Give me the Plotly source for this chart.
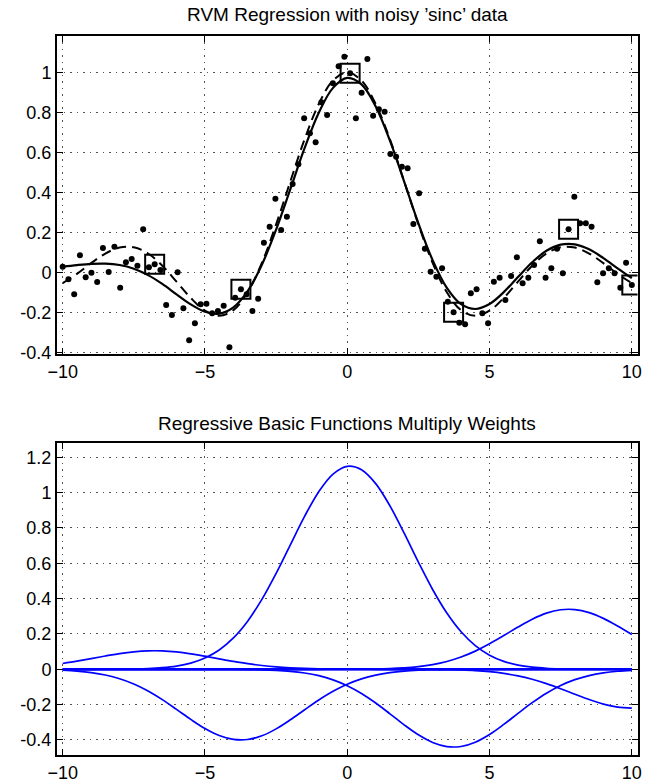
import plotly.graph_objects as go

# ---------------- data: noisy sinc samples (top panel) ----------------
x_data = [-10.000, -9.798, -9.596, -9.394, -9.192, -8.990, -8.788, -8.586, -8.384, -8.182,
          -7.980, -7.778, -7.576, -7.374, -7.172, -6.970, -6.768, -6.566, -6.364, -6.162,
          -5.960, -5.758, -5.556, -5.354, -5.152, -4.949, -4.747, -4.545, -4.343, -4.141,
          -3.939, -3.737, -3.535, -3.333, -3.131, -2.929, -2.727, -2.525, -2.323, -2.121,
          -1.919, -1.717, -1.515, -1.313, -1.111, -0.909, -0.707, -0.505, -0.303, -0.101,
          0.101, 0.303, 0.505, 0.707, 0.909, 1.111, 1.313, 1.515, 1.717, 1.919,
          2.121, 2.323, 2.525, 2.727, 2.929, 3.131, 3.333, 3.535, 3.737, 3.939,
          4.141, 4.343, 4.545, 4.747, 4.949, 5.152, 5.354, 5.556, 5.758, 5.960,
          6.162, 6.364, 6.566, 6.768, 6.970, 7.172, 7.374, 7.576, 7.778, 7.980,
          8.182, 8.384, 8.586, 8.788, 8.990, 9.192, 9.394, 9.596, 9.798, 10.000]
y_data = [0.028, -0.035, -0.110, 0.085, -0.025, -0.002, -0.048, 0.122, 0.002, 0.128,
          -0.077, 0.050, 0.067, 0.033, 0.215, 0.025, 0.040, 0.012, -0.163, -0.213,
          0.000, -0.180, -0.340, -0.255, -0.160, -0.157, -0.205, -0.193, -0.167, -0.375,
          -0.127, -0.085, -0.110, -0.193, -0.132, 0.148, 0.228, 0.368, 0.212, 0.278,
          0.442, 0.540, 0.770, 0.695, 0.650, 0.850, 0.787, 0.945, 1.030, 1.078,
          0.995, 0.770, 0.898, 1.067, 0.783, 0.815, 0.803, 0.592, 0.578, 0.528,
          0.520, 0.242, 0.395, 0.118, 0.003, -0.022, 0.020, -0.147, -0.200, -0.252,
          -0.260, -0.105, -0.085, -0.205, -0.255, -0.047, -0.027, -0.138, -0.018, 0.075,
          -0.055, -0.027, 0.037, 0.155, -0.027, 0.020, 0.118, -0.005, 0.215, 0.378,
          0.245, 0.245, 0.228, -0.050, -0.005, 0.020, -0.005, -0.077, 0.048, -0.063]

# indices of the relevance vectors (boxed points)
rv_index = [16, 31, 50, 68, 88, 99]

# ---------------- curves sampled on a common grid ----------------
x_grid = [-10.0, -9.5, -9.0, -8.5, -8.0, -7.5, -7.0, -6.5, -6.0, -5.5,
          -5.0, -4.5, -4.0, -3.5, -3.0, -2.5, -2.0, -1.5, -1.0, -0.5,
          0.0, 0.5, 1.0, 1.5, 2.0, 2.5, 3.0, 3.5, 4.0, 4.5,
          5.0, 5.5, 6.0, 6.5, 7.0, 7.5, 8.0, 8.5, 9.0, 9.5, 10.0]

# true sinc (dashed)
sinc_true = [-0.0544, -0.0079, 0.0458, 0.0939, 0.1237, 0.1251, 0.0939, 0.0331, -0.0466, -0.1283,
             -0.1918, -0.2172, -0.1892, -0.1002, 0.0470, 0.2394, 0.4546, 0.6650, 0.8415, 0.9589,
             1.0000, 0.9589, 0.8415, 0.6650, 0.4546, 0.2394, 0.0470, -0.1002, -0.1892, -0.2172,
             -0.1918, -0.1283, -0.0466, 0.0331, 0.0939, 0.1251, 0.1237, 0.0939, 0.0458, -0.0079, -0.0544]

# RVM prediction (solid)
rvm_fit = [0.0279, 0.0359, 0.0420, 0.0433, 0.0363, 0.0178, -0.0142, -0.0583, -0.1101, -0.1604,
           -0.1973, -0.2066, -0.1752, -0.0942, 0.0379, 0.2135, 0.4159, 0.6204, 0.7981, 0.9221,
           0.9721, 0.9395, 0.8293, 0.6583, 0.4536, 0.2451, 0.0609, -0.0777, -0.1595, -0.1836,
           -0.1587, -0.0993, -0.0235, 0.0503, 0.1076, 0.1383, 0.1396, 0.1147, 0.0712, 0.0199, -0.0290]

# weighted basis functions (bottom panel)
basis_1 = [0.0330, 0.0459, 0.0604, 0.0753, 0.0888, 0.0990, 0.1044, 0.1042, 0.0983, 0.0878,
           0.0741, 0.0592, 0.0448, 0.0320, 0.0217, 0.0138, 0.0084, 0.0048, 0.0026, 0.0013,
           0.0006, 0.0003, 0.0001, 0.0, 0.0, 0.0, 0.0, 0.0, 0.0, 0.0,
           0.0, 0.0, 0.0, 0.0, 0.0, 0.0, 0.0, 0.0, 0.0, 0.0, 0.0]
basis_2 = [-0.0051, -0.0100, -0.0185, -0.0323, -0.0533, -0.0831, -0.1228, -0.1716, -0.2268, -0.2835,
           -0.3353, -0.3751, -0.3970, -0.3974, -0.3764, -0.3372, -0.2857, -0.2290, -0.1737, -0.1246,
           -0.0846, -0.0543, -0.0329, -0.0189, -0.0103, -0.0053, -0.0026, -0.0012, -0.0005, -0.0002,
           0.0, 0.0, 0.0, 0.0, 0.0, 0.0, 0.0, 0.0, 0.0, 0.0, 0.0]
basis_3 = [0.0000, 0.0000, 0.0001, 0.0003, 0.0008, 0.0019, 0.0042, 0.0091, 0.0184, 0.0353,
           0.0639, 0.1095, 0.1776, 0.2725, 0.3954, 0.5427, 0.7045, 0.8654, 1.0053, 1.1049,
           1.1487, 1.1297, 1.0510, 0.9249, 0.7701, 0.6064, 0.4517, 0.3183, 0.2122, 0.1339,
           0.0798, 0.0450, 0.0240, 0.0121, 0.0058, 0.0026, 0.0011, 0.0005, 0.0002, 0.0001, 0.0000]
basis_4 = [0.0, 0.0, 0.0, 0.0, 0.0, 0.0, 0.0, 0.0, 0.0, 0.0,
           0.0, -0.0002, -0.0006, -0.0013, -0.0028, -0.0058, -0.0113, -0.0208, -0.0362, -0.0597,
           -0.0930, -0.1371, -0.1910, -0.2519, -0.3143, -0.3709, -0.4140, -0.4372, -0.4367, -0.4126,
           -0.3689, -0.3119, -0.2494, -0.1888, -0.1351, -0.0914, -0.0586, -0.0355, -0.0203, -0.0110, -0.0057]
basis_5 = [0.0, 0.0, 0.0, 0.0, 0.0, 0.0, 0.0, 0.0, 0.0, 0.0,
           0.0, 0.0, 0.0, 0.0, 0.0, 0.0, 0.0, 0.0, 0.0001, 0.0002,
           0.0004, 0.0009, 0.0021, 0.0043, 0.0083, 0.0153, 0.0268, 0.0444, 0.0695, 0.1029,
           0.1441, 0.1908, 0.2391, 0.2834, 0.3178, 0.3370, 0.3382, 0.3210, 0.2882, 0.2448, 0.1967]
basis_6 = [0.0, 0.0, 0.0, 0.0, 0.0, 0.0, 0.0, 0.0, 0.0, 0.0,
           0.0, 0.0, 0.0, 0.0, 0.0, 0.0, 0.0, 0.0, 0.0, 0.0,
           0.0, 0.0, 0.0, -0.0001, -0.0002, -0.0004, -0.0010, -0.0020, -0.0040, -0.0076,
           -0.0137, -0.0232, -0.0372, -0.0564, -0.0809, -0.1099, -0.1411, -0.1713, -0.1969, -0.2140, -0.2200]
basis_zero = [0.0] * len(x_grid)

x_ticks = [-10, -5, 0, 5, 10]
y_ticks_top = [-0.4, -0.2, 0, 0.2, 0.4, 0.6, 0.8, 1]
y_ticks_bot = [-0.4, -0.2, 0, 0.2, 0.4, 0.6, 0.8, 1, 1.2]

title_top = "RVM Regression with noisy ’sinc’ data"
title_bot = "Regressive Basic Functions Multiply Weights"

# ---------------- figure ----------------
W, H = 656, 783
FONT = "Liberation Sans, Arial, Helvetica, sans-serif"
fig = go.Figure()

fig.add_trace(go.Scatter(x=x_grid, y=sinc_true, mode="lines", line=dict(color="black", width=2, dash="10px,6px", shape="spline"),
                         xaxis="x", yaxis="y", hoverinfo="skip"))
fig.add_trace(go.Scatter(x=x_grid, y=rvm_fit, mode="lines", line=dict(color="black", width=2.2, shape="spline"),
                         xaxis="x", yaxis="y", hoverinfo="skip"))
fig.add_trace(go.Scatter(x=x_data, y=y_data, mode="markers", marker=dict(color="black", size=6),
                         xaxis="x", yaxis="y"))
fig.add_trace(go.Scatter(x=[x_data[i] for i in rv_index], y=[y_data[i] for i in rv_index], mode="markers",
                         marker=dict(symbol="square-open", size=19, color="black", line=dict(width=2, color="black")),
                         xaxis="x", yaxis="y"))

for b in [basis_zero, basis_1, basis_2, basis_3, basis_4, basis_5, basis_6]:
    fig.add_trace(go.Scatter(x=x_grid, y=b, mode="lines",
                             line=dict(color="#0000ff", width=2.6 if b is basis_zero else 1.7, shape="spline"),
                             xaxis="x2", yaxis="y2", hoverinfo="skip"))

xdom = [57 / W, 637.5 / W]
axis_common = dict(showline=True, linewidth=2, linecolor="black", mirror="ticks",
                   ticks="inside", ticklen=6, tickwidth=1, tickcolor="black",
                   showgrid=True, gridcolor="#555555", gridwidth=1, griddash="1.5px,5px",
                   zeroline=False, automargin=False,
                   tickfont=dict(family=FONT, size=18, color="black"))

fig.update_layout(
    template="none",
    width=W, height=H, margin=dict(l=0, r=0, t=0, b=0, pad=0),
    paper_bgcolor="white", plot_bgcolor="white", showlegend=False,
    font=dict(family=FONT, size=18, color="black"),
    xaxis=dict(domain=xdom, anchor="y", range=[-10.2, 10.2], tickvals=x_ticks, **axis_common),
    yaxis=dict(domain=[1 - 354 / H, 1 - 35.5 / H], anchor="x", range=[-0.4085, 1.184],
               tickvals=y_ticks_top, ticktext=[f"{v:g}" for v in y_ticks_top], **axis_common),
    xaxis2=dict(domain=xdom, anchor="y2", range=[-10.2, 10.2], tickvals=x_ticks, **axis_common),
    yaxis2=dict(domain=[1 - 755 / H, 1 - 443.3 / H], anchor="x2", range=[-0.485, 1.279],
                tickvals=y_ticks_bot, ticktext=[f"{v:g}" for v in y_ticks_bot], **axis_common),
    annotations=[
        dict(text=title_top, x=(xdom[0] + xdom[1]) / 2, y=1 - 14.5 / H, xref="paper", yref="paper",
             xanchor="center", yanchor="middle", showarrow=False, font=dict(family=FONT, size=19, color="black")),
        dict(text=title_bot, x=(xdom[0] + xdom[1]) / 2, y=1 - 423.5 / H, xref="paper", yref="paper",
             xanchor="center", yanchor="middle", showarrow=False, font=dict(family=FONT, size=19, color="black")),
    ],
)

fig.write_html("out.html")
